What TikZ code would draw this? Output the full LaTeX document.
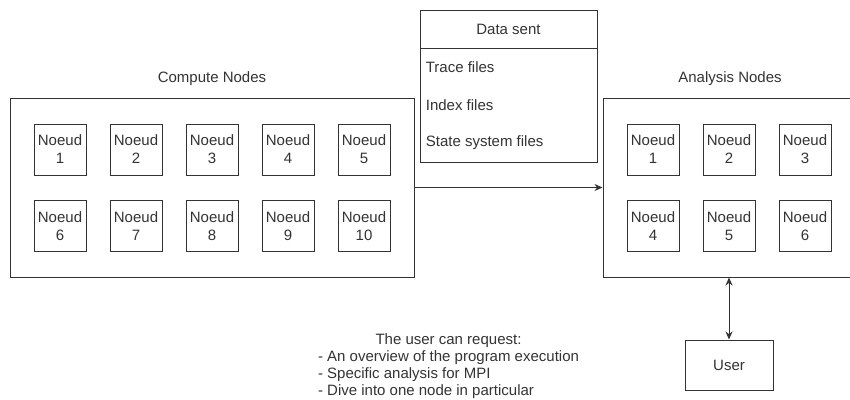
\documentclass[tikz,border=0pt]{standalone}
\usepackage{fontspec}
\setmainfont{Liberation Sans}
\usetikzlibrary{arrows.meta}

\begin{document}
\begin{tikzpicture}[x=1pt, y=-1pt, line width=1pt, color=black!80,
  font=\fontsize{15}{18}\selectfont,
  >={Stealth[length=8pt, width=7pt]},
  group/.style={draw, minimum width=#1, minimum height=179pt},
  noeud/.style={draw, minimum width=52pt, minimum height=51pt, inner sep=0pt, align=center}]
\useasboundingbox (0, 0) rectangle (850, 399);
\node[group=404pt] at (212, 187.5) (compute) {};
\node at (212, 79) (computelbl) {Compute Nodes};
\node[noeud] at (60, 149.5) (c1) {Noeud\\1};
\node[noeud] at (136, 149.5) (c2) {Noeud\\2};
\node[noeud] at (212, 149.5) (c3) {Noeud\\3};
\node[noeud] at (288, 149.5) (c4) {Noeud\\4};
\node[noeud] at (364, 149.5) (c5) {Noeud\\5};
\node[noeud] at (60, 226) (c6) {Noeud\\6};
\node[noeud] at (136, 226) (c7) {Noeud\\7};
\node[noeud] at (212, 226) (c8) {Noeud\\8};
\node[noeud] at (288, 226) (c9) {Noeud\\9};
\node[noeud] at (364, 226) (c10) {Noeud\\10};
\node[group=252pt] at (729, 187.5) (analysis) {};
\node at (730, 79) (analysislbl) {Analysis Nodes};
\node[noeud] at (653, 149.5) (a1) {Noeud\\1};
\node[noeud] at (729, 149.5) (a2) {Noeud\\2};
\node[noeud] at (805, 149.5) (a3) {Noeud\\3};
\node[noeud] at (653, 226) (a4) {Noeud\\4};
\node[noeud] at (729, 226) (a5) {Noeud\\5};
\node[noeud] at (805, 226) (a6) {Noeud\\6};
\node[draw, minimum width=177pt, minimum height=38pt] at (508.5, 29) (datahead) {Data sent};
\node[draw, minimum width=177pt, minimum height=114pt] at (508.5, 105) (databody) {};
\node[anchor=west] at (422, 67) (trace) {Trace files};
\node[anchor=west] at (422, 105) (index) {Index files};
\node[anchor=west] at (422, 143) (state) {State system files};
\draw[->] (compute.east) -- (analysis.west);
\node[draw, minimum width=88pt, minimum height=50pt] at (729, 365) (user) {User};
\draw[<->] (analysis.south) -- (user.north);
\node[font=\fontsize{15}{17}\selectfont, inner sep=0pt] at (448.5, 367) (request) {\begin{tabular}{@{}l@{}}
  \multicolumn{1}{@{}c@{}}{The user can request:}\\
  - An overview of the program execution\\
  - Specific analysis for MPI\\
  - Dive into one node in particular
\end{tabular}};
\end{tikzpicture}
\end{document}
